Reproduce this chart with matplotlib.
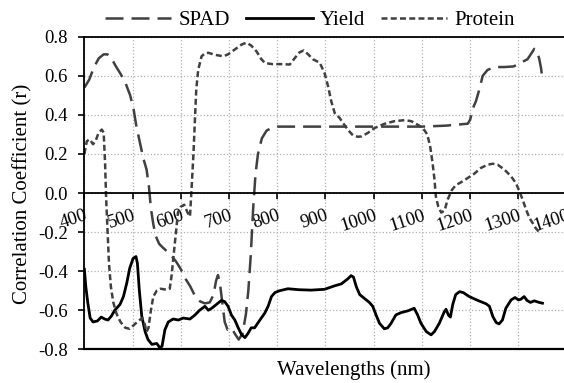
import matplotlib
matplotlib.use("Agg")
import matplotlib.pyplot as plt

plt.rcParams['font.family'] = ['Liberation Serif', 'DejaVu Serif']
plt.rcParams['axes.unicode_minus'] = False

# SPAD correlation vs wavelength
spad_nm = [400, 410, 420, 430, 440, 448, 455, 465, 475, 485, 495, 502, 508, 515,
           522, 529, 534, 538, 543, 548, 555, 563, 572, 580, 590, 600, 610, 620,
           630, 640, 650, 660, 668, 673, 677, 681, 686, 691, 697, 705, 712, 720,
           728, 735, 740, 745, 750, 755, 760, 768, 778, 790, 800, 900, 1000, 1100,
           1150, 1195, 1200, 1205, 1212, 1219, 1226, 1236, 1250, 1270, 1290, 1305,
           1319, 1327, 1333, 1338, 1343, 1347, 1350]
spad_r = [0.54, 0.58, 0.645, 0.69, 0.71, 0.71, 0.695, 0.65, 0.61, 0.565, 0.50,
          0.43, 0.34, 0.26, 0.18, 0.12, 0.03, -0.08, -0.16, -0.22, -0.26, -0.28,
          -0.30, -0.32, -0.35, -0.39, -0.44, -0.48, -0.53, -0.555, -0.565, -0.56,
          -0.52, -0.45, -0.42, -0.46, -0.56, -0.66, -0.70, -0.69, -0.72, -0.75,
          -0.72, -0.62, -0.50, -0.32, -0.08, 0.10, 0.20, 0.28, 0.32, 0.335, 0.34,
          0.34, 0.34, 0.34, 0.345, 0.355, 0.375, 0.43, 0.47, 0.53, 0.60, 0.63,
          0.645, 0.645, 0.648, 0.667, 0.685, 0.715, 0.738, 0.73, 0.69, 0.64, 0.58]

# Yield correlation vs wavelength
yield_nm = [400, 403, 407, 412, 418, 427, 435, 442, 449, 456, 463, 474, 481, 488,
            494, 501, 507, 510, 514, 519, 526, 532, 540, 550, 556, 561, 567, 574,
            584, 595, 605, 619, 629, 639, 650, 657, 664, 674, 684, 691, 698, 705,
            712, 719, 726, 733, 739, 746, 753, 764, 774, 781, 788, 795, 805, 822,
            845, 870, 898, 919, 933, 946, 953, 958, 964, 971, 981, 991, 998, 1005,
            1012, 1022, 1029, 1036, 1046, 1057, 1071, 1084, 1091, 1098, 1109, 1119,
            1126, 1136, 1146, 1150, 1155, 1159, 1164, 1170, 1178, 1186, 1198, 1216,
            1233, 1240, 1247, 1254, 1260, 1267, 1274, 1285, 1293, 1300, 1305, 1312,
            1318, 1325, 1333, 1343, 1350]
yield_r = [-0.39, -0.48, -0.56, -0.64, -0.66, -0.655, -0.635, -0.645, -0.65, -0.63,
           -0.60, -0.57, -0.53, -0.46, -0.385, -0.335, -0.325, -0.36, -0.50, -0.63,
           -0.71, -0.75, -0.775, -0.77, -0.79, -0.785, -0.70, -0.66, -0.645, -0.65,
           -0.64, -0.645, -0.625, -0.60, -0.58, -0.60, -0.59, -0.57, -0.55, -0.556,
           -0.58, -0.625, -0.65, -0.69, -0.725, -0.74, -0.72, -0.69, -0.69, -0.65,
           -0.615, -0.58, -0.53, -0.51, -0.50, -0.49, -0.495, -0.497, -0.493,
           -0.475, -0.465, -0.44, -0.423, -0.43, -0.48, -0.52, -0.54, -0.56, -0.58,
           -0.625, -0.667, -0.695, -0.69, -0.667, -0.624, -0.612, -0.603, -0.59,
           -0.624, -0.667, -0.709, -0.726, -0.709, -0.667, -0.61, -0.595, -0.625,
           -0.635, -0.57, -0.52, -0.505, -0.51, -0.53, -0.55, -0.567, -0.58, -0.632,
           -0.663, -0.67, -0.65, -0.59, -0.547, -0.535, -0.547, -0.544, -0.53,
           -0.55, -0.56, -0.552, -0.56, -0.564]

# Protein correlation vs wavelength
protein_nm = [400, 405, 411, 418, 423, 429, 436, 440, 443, 445, 448, 451, 455, 460,
              467, 475, 485, 494, 503, 512, 520, 525, 529, 533, 538, 543, 550, 558,
              570, 577, 581, 585, 590, 594, 600, 607, 614, 619, 622, 626, 629, 632,
              636, 643, 650, 657, 670, 688, 698, 712, 726, 736, 746, 757, 767, 775,
              790, 808, 826, 836, 846, 855, 864, 874, 888, 898, 905, 912, 919, 929,
              936, 946, 957, 967, 975, 988, 1002, 1022, 1043, 1064, 1078, 1091, 1102,
              1111, 1117, 1122, 1126, 1129, 1134, 1140, 1147, 1153, 1162, 1170, 1181,
              1195, 1209, 1222, 1236, 1247, 1257, 1271, 1285, 1295, 1302, 1309, 1316,
              1323, 1330, 1336, 1345]
protein_r = [0.20, 0.265, 0.275, 0.25, 0.265, 0.305, 0.325, 0.31, 0.15, -0.02, -0.19,
             -0.36, -0.48, -0.56, -0.62, -0.66, -0.69, -0.695, -0.675, -0.655, -0.64,
             -0.67, -0.71, -0.69, -0.60, -0.53, -0.50, -0.49, -0.495, -0.49, -0.42,
             -0.32, -0.20, -0.10, -0.07, -0.06, -0.10, -0.12, 0.01, 0.19, 0.36, 0.53,
             0.63, 0.70, 0.715, 0.718, 0.708, 0.70, 0.71, 0.735, 0.76, 0.77, 0.755,
             0.725, 0.685, 0.665, 0.66, 0.66, 0.658, 0.69, 0.72, 0.73, 0.71, 0.685,
             0.667, 0.615, 0.55, 0.47, 0.41, 0.385, 0.36, 0.325, 0.295, 0.288, 0.29,
             0.308, 0.333, 0.354, 0.368, 0.373, 0.368, 0.35, 0.333, 0.30, 0.24, 0.155,
             0.07, -0.02, -0.07, -0.10, -0.09, -0.035, 0.015, 0.04, 0.055, 0.077,
             0.10, 0.128, 0.145, 0.15, 0.145, 0.12, 0.085, 0.05, 0.01, -0.035, -0.085,
             -0.128, -0.155, -0.18, -0.205]

x_ticks = [400, 500, 600, 700, 800, 900, 1000, 1100, 1200, 1300, 1400]
y_ticks = [-0.8, -0.6, -0.4, -0.2, 0.0, 0.2, 0.4, 0.6, 0.8]

grey = '#404040'

fig = plt.figure(figsize=(5.64, 3.83), dpi=100)
ax = fig.add_axes([0.1496, 0.088, 0.855, 0.816])

# move the x axis to r = 0 first (this resets tick labels)
ax.spines['bottom'].set_position(('data', 0))
ax.spines['right'].set_visible(False)
for s in ['left', 'top', 'bottom']:
    ax.spines[s].set_color('black')
    ax.spines[s].set_linewidth(1.3)

ax.plot(spad_nm, spad_r, color=grey, lw=1.8, dashes=(7.2, 3.2), label='SPAD')
ax.plot(yield_nm, yield_r, color='black', lw=2.0, label='Yield')
ax.plot(protein_nm, protein_r, color=grey, lw=1.8, dashes=(2.4, 1.3), label='Protein')
ax.axhline(-0.8, color='black', lw=1.6, clip_on=False)

ax.set_xlim(400, 1400)
ax.set_ylim(-0.8, 0.8)
ax.set_xticks(x_ticks)
ax.set_yticks(y_ticks)
ax.set_yticklabels(['%.1f' % v for v in y_ticks], fontsize=13.5)
ax.set_xticklabels([str(v) for v in x_ticks], fontsize=13.5, rotation=18,
                   ha='right', va='top', rotation_mode='anchor')

ax.grid(True, color='#b0b0b0', linestyle=':', linewidth=0.9)
ax.set_axisbelow(True)

ax.tick_params(axis='x', direction='out', length=4, width=1.2, pad=6)
ax.tick_params(axis='y', direction='out', length=4, width=1.2, pad=8)

fig.text(23 / 564, 1 - 194 / 383, 'Correlation Coefficient (r)', fontsize=15,
         rotation=90, ha='center', va='center')
fig.text(354 / 564, 1 - 370 / 383, 'Wavelengths (nm)', fontsize=15,
         ha='center', va='center')

fig.legend(loc='center', bbox_to_anchor=(310 / 564, 1 - 20 / 383), ncol=3,
           frameon=False, fontsize=15, handlelength=3.2, handletextpad=0.35,
           columnspacing=0.75)

fig.savefig('out.png', dpi=100)
